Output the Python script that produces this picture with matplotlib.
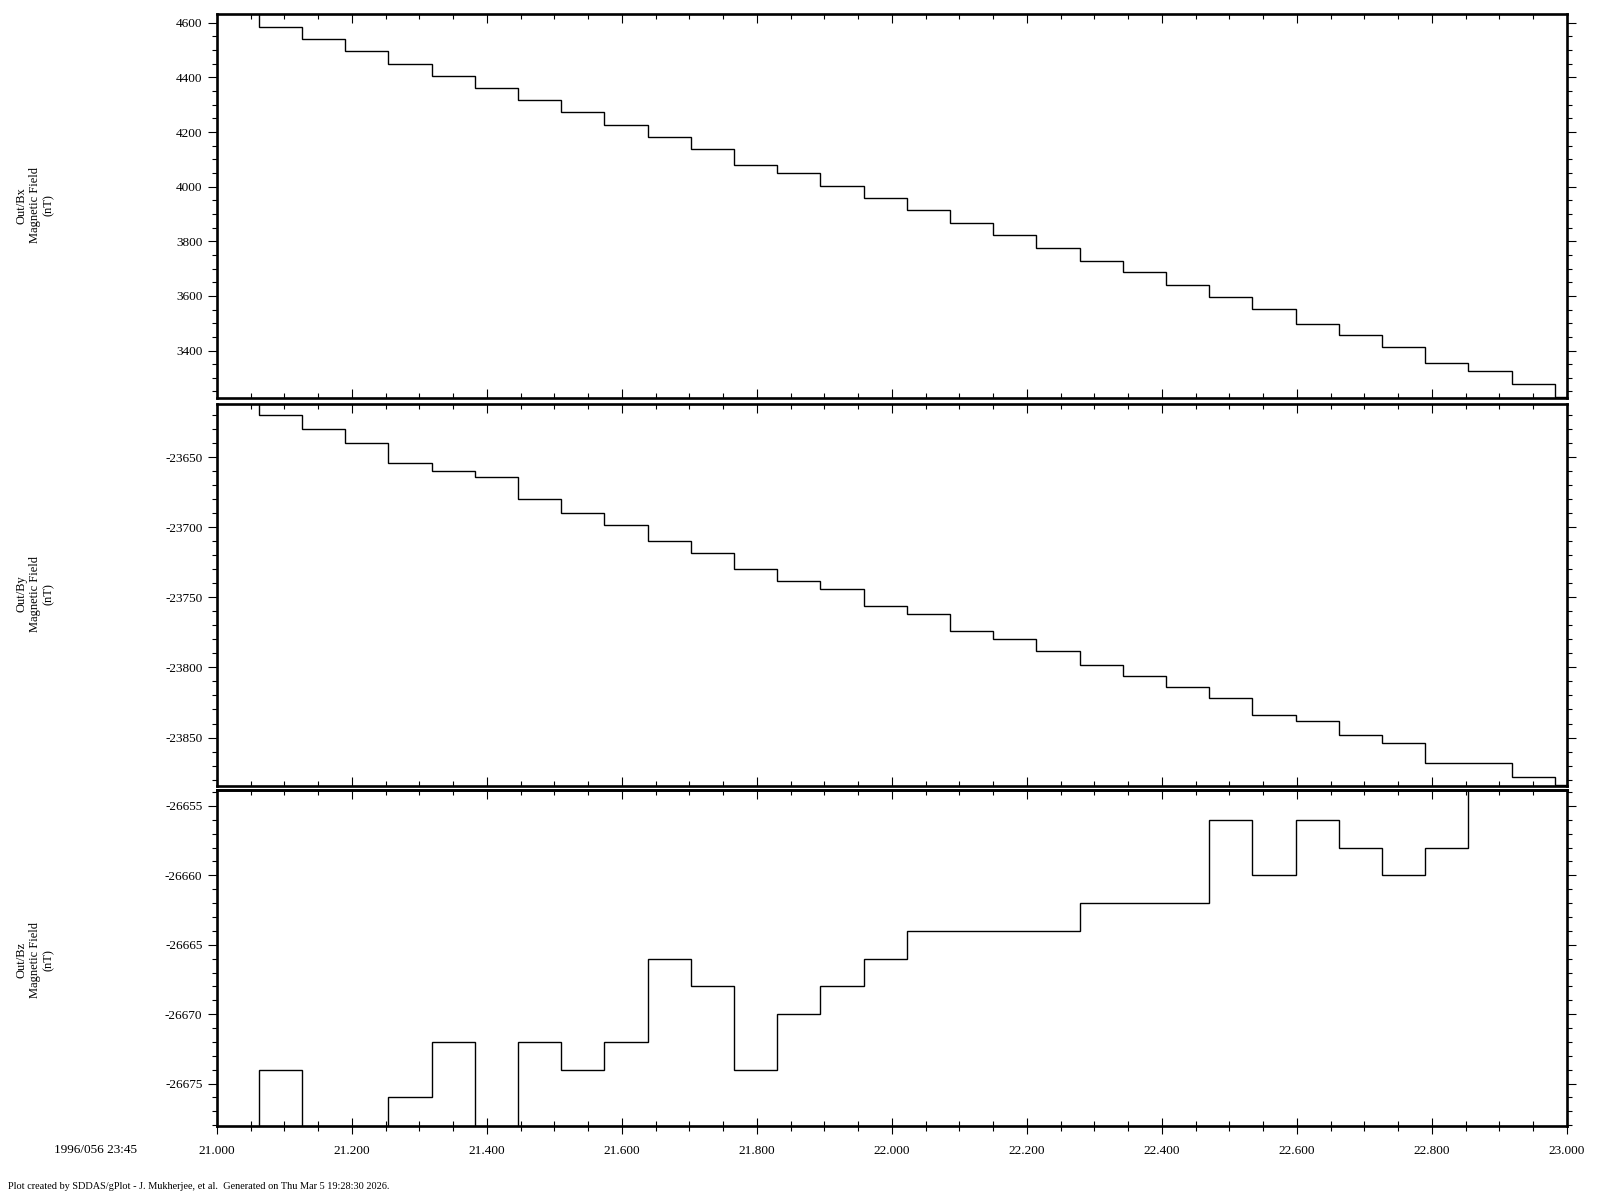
import matplotlib
matplotlib.use('Agg')
import matplotlib.pyplot as plt
from matplotlib.ticker import MultipleLocator, FormatStrFormatter

plt.rcParams['font.family'] = ['Liberation Serif', 'DejaVu Serif']
plt.rcParams['axes.unicode_minus'] = False

# sample start times (one sample before the window, then the spin-period steps)
times = [20.998, 21.062, 21.126, 21.190, 21.254, 21.318, 21.382, 21.446, 21.510,
         21.574, 21.638, 21.702, 21.766, 21.830, 21.894, 21.958, 22.022, 22.086,
         22.150, 22.214, 22.278, 22.342, 22.406, 22.470, 22.534, 22.598, 22.662,
         22.726, 22.790, 22.854, 22.918, 22.982]
t_end = 23.0

bx = [4635, 4583, 4541, 4495, 4448, 4406, 4360, 4316, 4272, 4224, 4180, 4137,
      4078, 4049, 4001, 3957, 3913, 3866, 3822, 3774, 3727, 3687, 3639, 3595,
      3551, 3496, 3456, 3412, 3354, 3324, 3277, 3229]

by = [-23610, -23620, -23630, -23640, -23654, -23660, -23664, -23680, -23690,
      -23698, -23710, -23718, -23730, -23738, -23744, -23756, -23762, -23774,
      -23780, -23788, -23798, -23806, -23814, -23822, -23834, -23838, -23848,
      -23854, -23868, -23868, -23878, -23884]

bz = [-26678.5, -26674, -26678.5, -26678.5, -26676, -26672, -26678.5, -26672,
      -26674, -26672, -26666, -26668, -26674, -26670, -26668, -26666, -26664,
      -26664, -26664, -26664, -26662, -26662, -26662, -26656, -26660, -26656,
      -26658, -26660, -26658, -26652, -26652, -26652]

panels = [
    ('Out/Bx\nMagnetic Field\n(nT)', bx, (3226, 4632), 200, 50),
    ('Out/By\nMagnetic Field\n(nT)', by, (-23884.6, -23612), 50, 10),
    ('Out/Bz\nMagnetic Field\n(nT)', bz, (-26678.05, -26653.85), 5, 1),
]

# axes boxes in figure fractions (left, bottom, width, height)
boxes = [
    (0.1356, 0.6683, 0.84375, 0.3200),
    (0.1356, 0.3450, 0.84375, 0.3183),
    (0.1356, 0.0617, 0.84375, 0.2800),
]
label_y = [0.829, 0.505, 0.200]

fig = plt.figure(figsize=(16, 12), dpi=100)

edges = times + [t_end]
for i, (label, vals, ylim, major, minor) in enumerate(panels):
    ax = fig.add_axes(boxes[i])
    ax.stairs(vals, edges, baseline=None, color='black', linewidth=1.0)
    ax.set_xlim(21.0, 23.0)
    ax.set_ylim(*ylim)
    for s in ax.spines.values():
        s.set_linewidth(1.9)

    ax.xaxis.set_major_locator(MultipleLocator(0.2))
    ax.xaxis.set_minor_locator(MultipleLocator(0.05))
    ax.yaxis.set_major_locator(MultipleLocator(major))
    ax.yaxis.set_minor_locator(MultipleLocator(minor))
    ax.yaxis.set_major_formatter(FormatStrFormatter('%d'))
    ax.xaxis.set_major_formatter(FormatStrFormatter('%.3f'))

    ax.tick_params(axis='y', which='both', direction='out', left=True, right=True,
                   labelleft=True, labelright=False, labelsize=9.5, width=0.8, pad=4)
    ax.tick_params(axis='y', which='major', length=6.5)
    ax.tick_params(axis='y', which='minor', length=3.5)

    if i < 2:
        ax.tick_params(axis='x', which='both', direction='in', top=True, bottom=True,
                       labelbottom=False, width=0.8)
        ax.tick_params(axis='x', which='major', length=6.5)
        ax.tick_params(axis='x', which='minor', length=3.8)
    else:
        ax.tick_params(axis='x', which='both', direction='inout', top=False, bottom=True,
                       labelbottom=True, labelsize=9.5, width=0.8, pad=8.5)
        ax.tick_params(axis='x', which='major', length=11)
        ax.tick_params(axis='x', which='minor', length=6.5)
        # inward ticks along the top edge
        sec = ax.secondary_xaxis('top')
        sec.xaxis.set_major_locator(MultipleLocator(0.2))
        sec.xaxis.set_minor_locator(MultipleLocator(0.05))
        sec.tick_params(axis='x', which='both', direction='in', labeltop=False, width=0.8)
        sec.tick_params(axis='x', which='major', length=6.5)
        sec.tick_params(axis='x', which='minor', length=3.8)
        sec.spines['top'].set_linewidth(1.9)

    fig.text(0.022, label_y[i], label, rotation=90, ha='center', va='center',
             multialignment='center', fontsize=9)

fig.text(0.0594, 0.0417, '1996/056 23:45', ha='center', va='center', fontsize=9.5)
fig.text(0.005, 0.011, 'Plot created by SDDAS/gPlot - J. Mukherjee, et al.  '
         'Generated on Thu Mar 5 19:28:30 2026.', ha='left', va='center', fontsize=7.4)

fig.savefig('out.png', dpi=100)
